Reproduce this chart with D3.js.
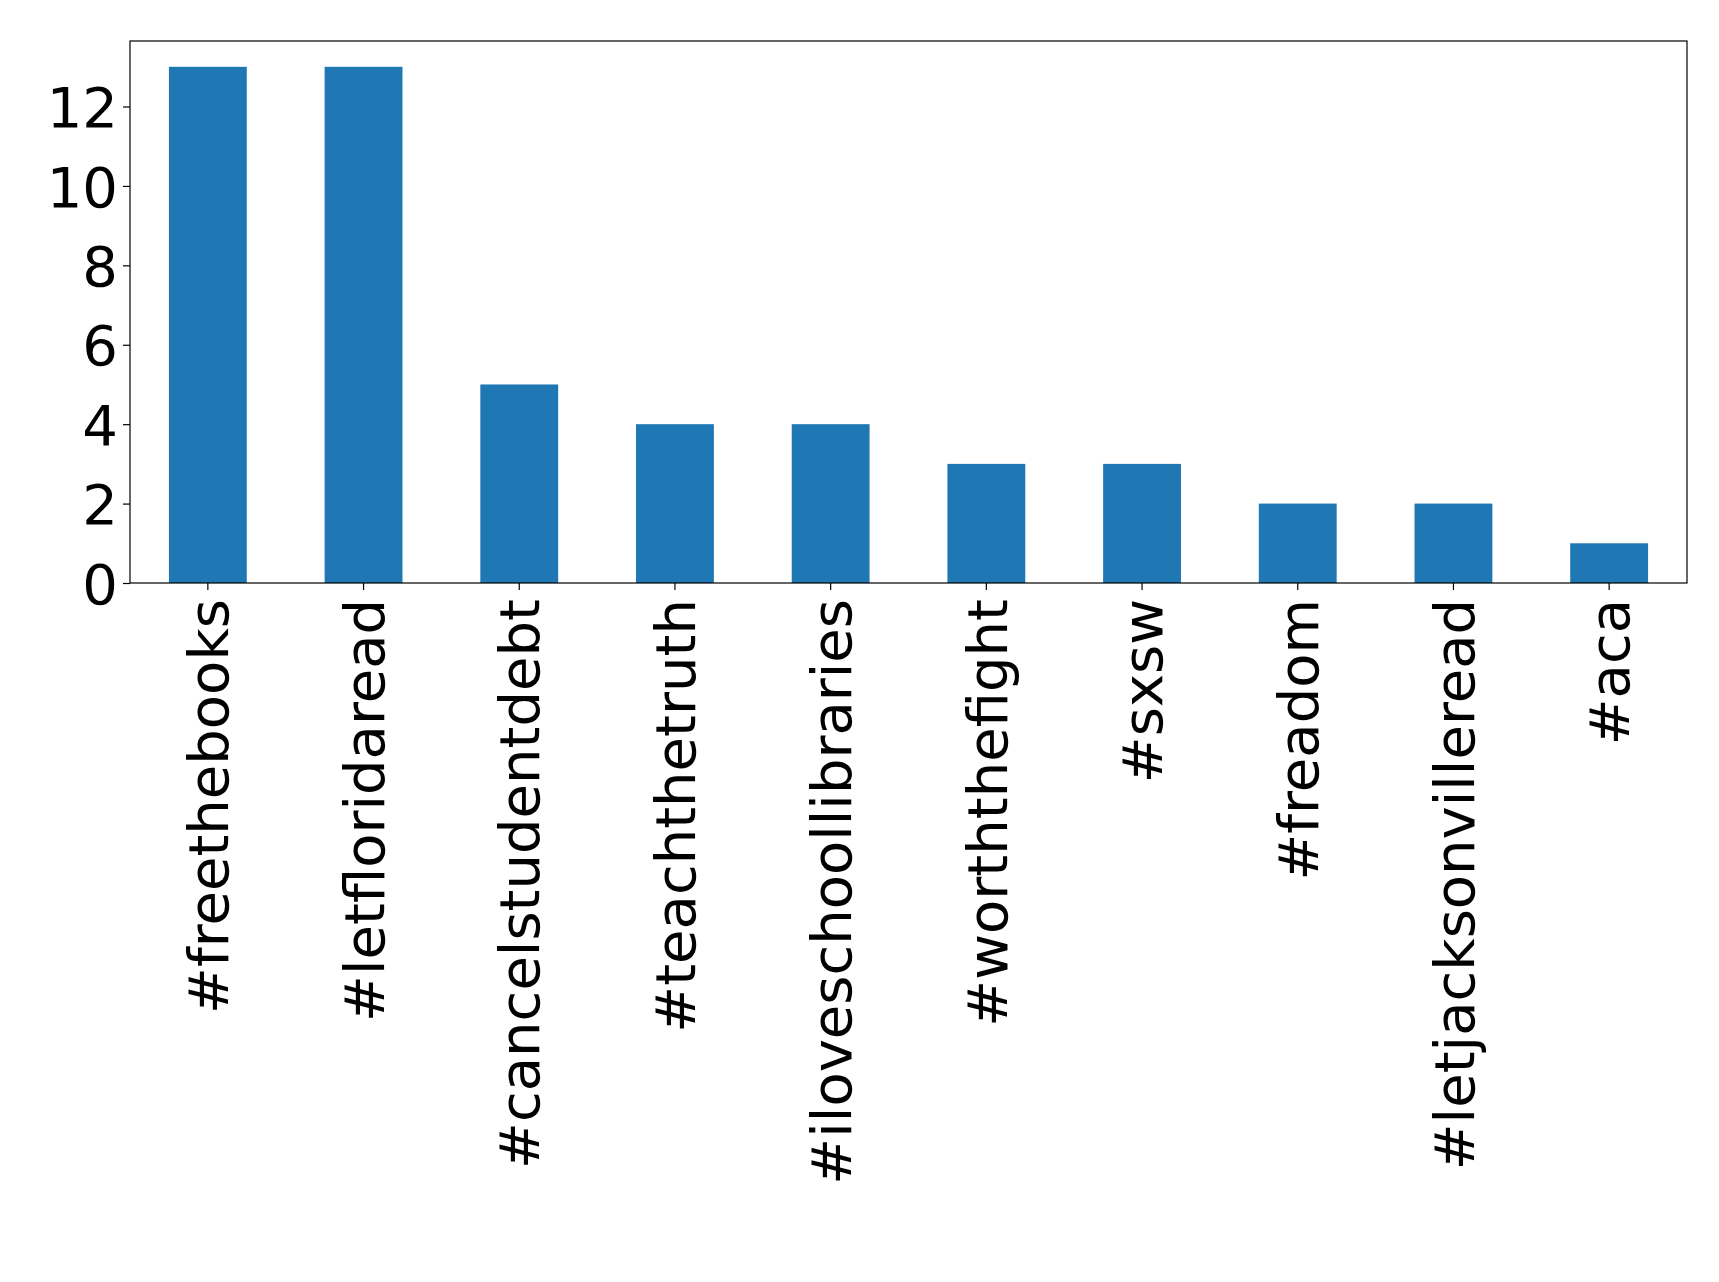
<!DOCTYPE html>
<html>
<head>
<meta charset="utf-8">
<script src="https://cdn.jsdelivr.net/npm/d3@7"></script>
<style>
  body { margin: 0; background: #fff; }
  text { font-family: "DejaVu Sans", sans-serif; }
</style>
</head>
<body>
<script>
// hashtag counts
var tags = ["#freethebooks", "#letfloridaread", "#cancelstudentdebt", "#teachthetruth",
  "#iloveschoollibraries", "#worththefight", "#sxsw", "#freadom", "#letjacksonvilleread", "#aca"];
var counts = [13, 13, 5, 4, 4, 3, 3, 2, 2, 1];
var yTicks = [0, 2, 4, 6, 8, 10, 12];

var svgWidth = 1719, svgHeight = 1282;
var margin = {top: 41, right: 32, bottom: 699, left: 130};
var chartWidth = svgWidth - margin.left - margin.right;
var chartHeight = svgHeight - margin.top - margin.bottom;

var svg = d3.select("body").append("svg")
  .attr("width", svgWidth)
  .attr("height", svgHeight);

var chartGroup = svg.append("g")
  .attr("transform", `translate(${margin.left}, ${margin.top})`);

var xScale = d3.scaleBand()
  .domain(tags)
  .range([0, chartWidth])
  .paddingInner(0.5)
  .paddingOuter(0.25);

var yScale = d3.scaleLinear()
  .domain([0, 13 * 1.05])
  .range([chartHeight, 0]);

chartGroup.selectAll(".bar")
  .data(counts)
  .enter()
  .append("rect")
  .attr("class", "bar")
  .attr("x", (d, i) => xScale(tags[i]))
  .attr("y", d => yScale(d))
  .attr("width", xScale.bandwidth())
  .attr("height", d => chartHeight - yScale(d))
  .attr("fill", "#1f77b4");

var leftAxis = d3.axisLeft(yScale).tickValues(yTicks).tickSize(7).tickPadding(5);
var bottomAxis = d3.axisBottom(xScale).tickSize(7).tickPadding(5);

var yg = chartGroup.append("g").call(leftAxis);
yg.selectAll("text").attr("font-size", "56px").attr("fill", "black").attr("dy", "0.36em");

var xg = chartGroup.append("g")
  .attr("transform", `translate(0, ${chartHeight})`)
  .call(bottomAxis);
xg.selectAll("text")
  .attr("font-size", "56px")
  .attr("fill", "black")
  .attr("text-anchor", "end")
  .attr("transform", "rotate(-90)")
  .attr("x", -16)
  .attr("y", 0)
  .attr("dy", "0.36em");

[yg, xg].forEach(g => {
  g.select(".domain").remove();
  g.selectAll("line").attr("stroke", "black").attr("stroke-width", 1.2);
});

chartGroup.append("rect")
  .attr("width", chartWidth)
  .attr("height", chartHeight)
  .attr("fill", "none")
  .attr("stroke", "black")
  .attr("stroke-width", 1.2);
</script>
</body>
</html>
